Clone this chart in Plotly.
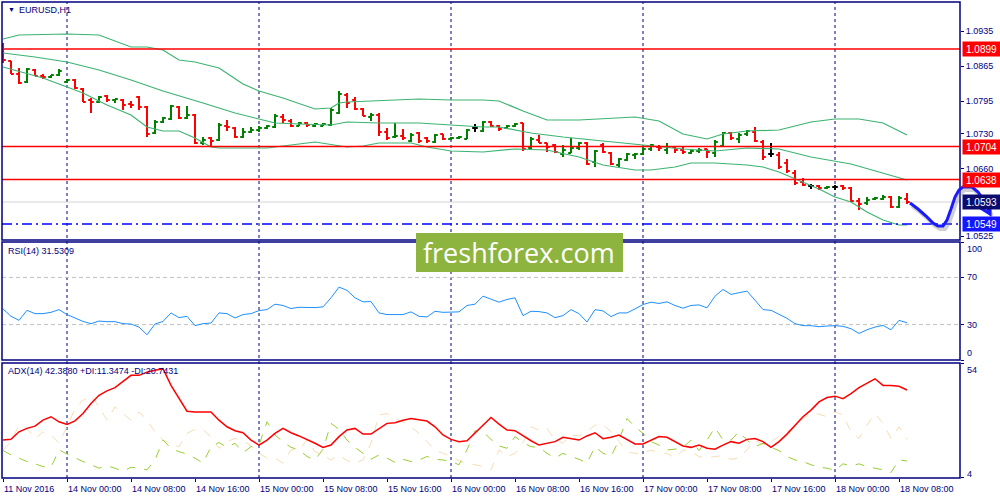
import plotly.graph_objects as go

# EURUSD H1 bars, 11 Nov 16:00 .. 18 Nov 09:00 (bar index 0..113)
opens = [1.0885,1.0875,1.0849,1.0833,1.0857,1.0845,1.0843,1.0847,1.0833,1.0837,
         1.0819,1.0797,1.0793,1.0805,1.0797,1.0797,1.0789,1.0803,1.0783,1.0731,
         1.0753,1.0759,1.0783,1.0761,1.0767,1.0711,1.0721,1.0717,1.0745,1.0741,
         1.0723,1.0733,1.0737,1.0741,1.0743,1.0763,1.0755,1.0745,1.0751,1.0745,
         1.0745,1.0747,1.0771,1.0807,1.0797,1.0779,1.0763,1.0767,1.0733,1.0723,
         1.0725,1.0715,1.0731,1.0721,1.0713,1.0729,1.0719,1.0721,1.0719,1.0741,
         1.0735,1.0753,1.0745,1.0741,1.0745,1.0751,1.0701,1.0717,1.0711,1.0707,
         1.0689,1.0691,1.0701,1.0711,1.0673,1.0707,1.0691,1.0667,1.0677,1.0687,
         1.0689,1.0699,1.0703,1.0697,1.0703,1.0697,1.0691,1.0695,1.0699,1.0691,
         1.0705,1.0731,1.0719,1.0729,1.0733,1.0713,1.0689,1.0687,1.0671,1.0651,
         1.0633,1.0625,1.0625,1.0621,1.0623,1.0625,1.0621,1.0595,1.0591,1.0599,
         1.0599,1.0603,1.0583,1.0599]
highs = [1.0911,1.0875,1.0861,1.0861,1.0859,1.0849,1.0847,1.0859,1.0839,1.0839,
         1.0821,1.0801,1.0805,1.0807,1.0799,1.0799,1.0795,1.0805,1.0785,1.0757,
         1.0763,1.0787,1.0785,1.0785,1.0769,1.0723,1.0723,1.0751,1.0757,1.0743,
         1.0741,1.0743,1.0745,1.0747,1.0769,1.0769,1.0759,1.0753,1.0753,1.0751,
         1.0751,1.0781,1.0815,1.0811,1.0803,1.0781,1.0771,1.0771,1.0741,1.0751,
         1.0739,1.0731,1.0733,1.0723,1.0729,1.0729,1.0723,1.0725,1.0739,1.0749,
         1.0755,1.0755,1.0747,1.0747,1.0751,1.0751,1.0723,1.0727,1.0711,1.0709,
         1.0707,1.0721,1.0713,1.0713,1.0697,1.0711,1.0693,1.0681,1.0691,1.0691,
         1.0703,1.0709,1.0707,1.0711,1.0703,1.0703,1.0697,1.0701,1.0699,1.0717,
         1.0733,1.0733,1.0731,1.0737,1.0743,1.0717,1.0711,1.0693,1.0679,1.0657,
         1.0641,1.0629,1.0627,1.0625,1.0627,1.0627,1.0623,1.0601,1.0603,1.0603,
         1.0607,1.0605,1.0605,1.0611]
lows = [1.0871,1.0849,1.0829,1.0831,1.0845,1.0839,1.0841,1.0845,1.0831,1.0819,
        1.0793,1.0771,1.0791,1.0793,1.0791,1.0777,1.0781,1.0777,1.0723,1.0729,
        1.0751,1.0757,1.0759,1.0759,1.0709,1.0707,1.0705,1.0715,1.0735,1.0721,
        1.0721,1.0731,1.0733,1.0739,1.0741,1.0751,1.0743,1.0745,1.0743,1.0743,
        1.0745,1.0745,1.0769,1.0781,1.0777,1.0765,1.0755,1.0725,1.0717,1.0721,
        1.0717,1.0713,1.0711,1.0711,1.0711,1.0717,1.0717,1.0719,1.0719,1.0733,
        1.0733,1.0743,1.0735,1.0739,1.0743,1.0695,1.0699,1.0711,1.0693,1.0691,
        1.0683,1.0691,1.0697,1.0667,1.0663,1.0691,1.0667,1.0663,1.0675,1.0679,
        1.0687,1.0695,1.0695,1.0689,1.0691,1.0689,1.0689,1.0691,1.0681,1.0683,
        1.0703,1.0717,1.0711,1.0725,1.0713,1.0677,1.0683,1.0659,1.0651,1.0627,
        1.0625,1.0619,1.0617,1.0619,1.0617,1.0617,1.0593,1.0577,1.0587,1.0597,
        1.0597,1.0581,1.0581,1.0589]
closes = [1.0877,1.0849,1.0831,1.0859,1.0845,1.0843,1.0847,1.0855,1.0837,1.0821,
          1.0793,1.0793,1.0803,1.0797,1.0799,1.0787,1.0787,1.0783,1.0729,1.0753,
          1.0761,1.0785,1.0761,1.0767,1.0711,1.0717,1.0715,1.0747,1.0743,1.0723,
          1.0733,1.0737,1.0741,1.0745,1.0765,1.0757,1.0745,1.0751,1.0747,1.0749,
          1.0749,1.0777,1.0809,1.0791,1.0779,1.0765,1.0767,1.0733,1.0721,1.0725,
          1.0721,1.0727,1.0715,1.0715,1.0727,1.0719,1.0721,1.0723,1.0737,1.0741,
          1.0753,1.0745,1.0739,1.0745,1.0749,1.0699,1.0719,1.0711,1.0703,1.0693,
          1.0697,1.0701,1.0711,1.0669,1.0695,1.0693,1.0669,1.0679,1.0689,1.0689,
          1.0699,1.0707,1.0701,1.0703,1.0697,1.0693,1.0695,1.0697,1.0693,1.0713,
          1.0731,1.0721,1.0727,1.0735,1.0715,1.0683,1.0689,1.0663,1.0655,1.0631,
          1.0627,1.0625,1.0621,1.0623,1.0623,1.0621,1.0595,1.0589,1.0597,1.0601,
          1.0603,1.0583,1.0601,1.0593]

# Bollinger bands, read at bar indices
upper_x = [0,2,8,12,16,18,20,22,24,27,30,32,35,39,41,42,43,47,52,56,60,62,65,68,72,79,82,85,88,90,93,97,101,104,107,110,113]
upper = [1.0919,1.0927,1.0929,1.0927,1.0903,1.0903,1.0897,1.0877,1.0873,1.0861,1.0829,1.0815,1.0801,1.0779,1.0781,1.0791,
         1.0793,1.0795,1.0799,1.0797,1.0797,1.0795,1.0775,1.0757,1.0757,1.0763,1.0755,1.0729,1.0719,1.0729,1.0735,1.0737,
         1.0753,1.0759,1.0759,1.0751,1.0727]
mid_x = [0,4,8,12,16,20,25,29,32,34,37,41,43,47,52,56,60,62,66,70,76,80,85,89,93,97,101,106,110,113]
mid = [1.0891,1.0883,1.0873,1.0857,1.0837,1.0815,1.0791,1.0771,1.0759,1.0751,1.0749,1.0747,1.0753,1.0751,1.0751,1.0747,
       1.0743,1.0743,1.0731,1.0723,1.0713,1.0707,1.0699,1.0695,1.0701,1.0699,1.0683,1.0669,1.0651,1.0637]
low_x = [0,5,10,13,16,18,20,22,24,26,27,33,35,39,43,45,47,51,53,56,60,64,68,72,75,79,81,84,86,89,93,95,97,100,102,104,106,108,110,112,113]
low = [1.0863,1.0841,1.0811,1.0787,1.0767,1.0743,1.0735,1.0735,1.0721,1.0703,1.0701,1.0701,1.0705,1.0713,1.0703,1.0705,
       1.0711,1.0711,1.0703,1.0695,1.0693,1.0699,1.0697,1.0683,1.0667,1.0657,1.0657,1.0663,1.0671,1.0671,1.0667,1.0663,
       1.0653,1.0633,1.0619,1.0603,1.0593,1.0573,1.0557,1.0547,1.0547]

rsi = [43.3,37.0,33.6,42.1,39.3,39.3,40.4,42.7,38.5,35.6,
       32.7,30.8,33.0,32.5,32.5,30.8,30.5,27.9,21.4,30.5,
       32.7,39.9,35.9,37.0,29.1,30.8,31.3,39.9,39.3,35.6,
       38.5,39.3,41.9,42.7,47.3,46.2,43.6,44.7,44.4,44.4,
       45.0,52.7,61.8,59.0,52.7,49.3,49.5,39.9,38.5,38.8,
       38.5,40.8,37.0,36.5,41.3,40.4,40.8,40.8,46.2,47.3,
       54.1,51.3,49.0,51.3,52.7,37.6,41.3,41.0,39.9,35.9,
       37.6,42.7,39.3,32.2,42.7,41.6,36.8,39.9,39.9,43.3,
       47.0,49.0,47.9,49.3,46.2,43.9,46.2,46.7,44.2,54.1,
       59.8,55.6,57.0,58.4,50.7,42.7,42.1,38.5,35.3,30.8,
       29.1,29.1,28.2,28.8,29.1,28.5,26.5,22.5,25.6,27.9,
       29.3,25.6,33.6,31.53]

adx = [20.5,20.8,24.1,25.6,26.6,29.2,30.7,28.5,27.3,28.9,
       32.1,36.5,40.1,42.0,43.4,45.9,48.8,48.8,50.2,51.0,
       51.7,44.4,38.6,33.1,32.8,32.8,32.8,29.2,26.3,24.6,
       23.7,20.5,18.3,20.5,23.4,25.6,23.7,22.3,20.8,19.1,
       17.3,18.3,22.0,24.9,25.6,23.1,23.1,25.6,27.8,28.1,
       29.2,29.9,29.2,28.8,26.3,22.7,20.8,19.8,20.2,23.7,
       27.0,30.4,27.5,24.9,24.6,22.3,20.2,18.3,19.1,19.8,
       21.7,21.1,20.5,22.3,23.7,21.1,21.7,22.7,20.8,18.8,
       18.8,20.5,22.0,21.7,19.8,17.9,17.3,18.3,16.9,16.5,
       18.3,19.8,19.1,20.8,21.2,19.8,17.3,19.8,23.1,27.0,
       30.7,33.6,37.2,39.1,39.7,38.6,40.8,43.4,45.4,47.3,
       44.4,44.4,44.0,42.39]
plus_di = [15.9,14.0,12.6,11.1,10.1,8.9,8.6,16.2,14.4,12.6,
           11.1,9.7,8.2,9.2,8.2,6.8,8.6,8.2,7.5,11.8,
           20.5,16.9,15.4,14.4,12.6,10.4,17.6,19.4,17.3,19.1,
           15.0,17.6,18.3,28.5,22.7,19.8,17.3,16.2,13.3,11.8,
           16.5,27.8,25.2,20.5,17.3,14.7,12.1,14.0,12.6,10.7,
           12.1,11.1,11.8,13.3,12.1,11.8,11.1,9.7,16.2,24.6,
           24.1,20.8,17.9,16.9,22.0,19.4,17.6,17.3,14.7,12.6,
           14.7,13.3,12.1,10.4,17.6,14.7,13.3,20.5,29.9,26.3,
           23.4,19.8,18.3,16.2,16.5,17.3,20.5,15.9,20.5,26.0,
           20.5,20.5,24.1,20.5,17.6,19.1,17.3,15.9,13.3,11.8,
           11.1,9.7,8.6,8.2,7.2,10.1,9.2,10.1,8.9,8.2,
           7.5,6.3,11.8,11.35]
minus_di = [16.2,19.8,27.0,25.6,21.2,24.1,22.7,19.1,26.3,34.3,
            37.9,40.1,35.0,29.2,35.0,32.1,29.2,32.8,29.2,24.1,
            20.5,19.1,17.6,23.4,25.2,24.9,22.0,16.9,19.8,21.2,
            20.2,17.9,14.7,12.6,12.6,10.4,16.2,16.2,20.5,15.4,
            14.0,11.8,14.0,11.5,10.4,11.8,19.1,31.4,32.1,29.9,
            28.5,26.3,23.4,19.8,16.2,14.7,13.3,11.5,10.4,9.7,
            8.9,7.5,16.2,13.3,14.7,19.4,26.3,24.9,25.6,20.5,
            19.1,22.7,22.3,24.1,27.0,27.3,24.1,19.8,15.4,14.7,
            14.7,16.2,14.7,14.7,12.6,16.2,15.4,13.3,12.6,13.3,
            13.6,12.1,12.6,16.2,20.5,18.3,19.8,22.0,24.1,26.3,
            29.9,32.1,31.8,30.7,32.8,31.4,24.1,21.2,27.0,32.1,
            27.8,21.2,26.3,20.74]

price_ticks = [1.0935, 1.0865, 1.0795, 1.0730, 1.0660, 1.0525]
red_levels = [1.0899, 1.0704, 1.0638]
bid = 1.0593
support = 1.0549

day_starts = [8, 32, 56, 80, 104]
label_idx = [0, 8, 16, 24, 32, 40, 48, 56, 64, 72, 80, 88, 96, 104, 112]
label_txt = ["11 Nov 2016", "14 Nov 00:00", "14 Nov 08:00", "14 Nov 16:00", "15 Nov 00:00",
             "15 Nov 08:00", "15 Nov 16:00", "16 Nov 00:00", "16 Nov 08:00", "16 Nov 16:00",
             "17 Nov 00:00", "17 Nov 08:00", "17 Nov 16:00", "18 Nov 00:00", "18 Nov 08:00"]

NAVY = "#000080"
FONT = "Liberation Sans"
FS = 9
idx = list(range(len(closes)))

# split doji bars (drawn black in MT4)
doji = [i for i in idx if opens[i] == closes[i]]
norm = [i for i in idx if opens[i] != closes[i]]

fig = go.Figure()

fig.add_trace(go.Ohlc(x=norm, open=[opens[i] for i in norm], high=[highs[i] for i in norm],
                      low=[lows[i] for i in norm], close=[closes[i] for i in norm],
                      increasing=dict(line=dict(color="#008000", width=2)),
                      decreasing=dict(line=dict(color="#ff0000", width=2)),
                      tickwidth=0.35, xaxis="x", yaxis="y", showlegend=False))
fig.add_trace(go.Ohlc(x=doji, open=[opens[i] for i in doji], high=[highs[i] for i in doji],
                      low=[lows[i] for i in doji], close=[closes[i] for i in doji],
                      increasing=dict(line=dict(color="#000000", width=2)),
                      decreasing=dict(line=dict(color="#000000", width=2)),
                      tickwidth=0.35, xaxis="x", yaxis="y", showlegend=False))

for bx, by in [(upper_x, upper), (mid_x, mid), (low_x, low)]:
    fig.add_trace(go.Scatter(x=bx, y=by, mode="lines", line=dict(color="#3cb371", width=1.2),
                             xaxis="x", yaxis="y", showlegend=False, hoverinfo="skip"))

fig.add_trace(go.Scatter(x=idx, y=rsi, mode="lines", line=dict(color="#1e90ff", width=1),
                         xaxis="x", yaxis="y2", showlegend=False))

fig.add_trace(go.Scatter(x=idx, y=minus_di, mode="lines", line=dict(color="#f5deb3", width=1, dash="dash"),
                         xaxis="x", yaxis="y3", showlegend=False))
fig.add_trace(go.Scatter(x=idx, y=plus_di, mode="lines", line=dict(color="#9acd32", width=1, dash="dash"),
                         xaxis="x", yaxis="y3", showlegend=False))
fig.add_trace(go.Scatter(x=idx, y=adx, mode="lines", line=dict(color="#ff0000", width=1.5),
                         xaxis="x", yaxis="y3", showlegend=False))

shapes = []
X0, X1 = 0.002, 0.96
panels = [(0.52, 0.996), (0.28, 0.516), (0.044, 0.274)]

for d in day_starts:
    shapes.append(dict(type="line", xref="x", yref="paper", x0=d, x1=d, y0=0.044, y1=0.996,
                       line=dict(color=NAVY, width=1, dash="3px,3px"), layer="below"))

shapes.append(dict(type="line", xref="paper", yref="y", x0=X0, x1=X1, y0=bid, y1=bid,
                   line=dict(color="#d3d3d3", width=1), layer="below"))
for lv in red_levels:
    shapes.append(dict(type="line", xref="paper", yref="y", x0=X0, x1=X1, y0=lv, y1=lv,
                       line=dict(color="#ff0000", width=1.5)))
shapes.append(dict(type="line", xref="paper", yref="y", x0=X0, x1=X1, y0=support, y1=support,
                   line=dict(color="#0000ff", width=1.5, dash="10px,4px,2px,4px")))

for lv in [70, 30]:
    shapes.append(dict(type="line", xref="paper", yref="y2", x0=X0, x1=X1, y0=lv, y1=lv,
                       line=dict(color="#c0c0c0", width=1, dash="4px,3px"), layer="below"))

for y0, y1 in panels:
    shapes.append(dict(type="rect", xref="paper", yref="paper", x0=X0, x1=X1, y0=y0, y1=y1,
                       line=dict(color=NAVY, width=1.5)))


# hand-drawn forecast sketch (pixel positions on the 1000x500 picture)
def pth(pts):
    return "M " + " L ".join("%.4f,%.4f" % (x / 1000, 1 - y / 500) for x, y in pts)


sketch = [(910, 203), (918, 209), (926, 216), (933, 223), (938, 226), (943, 226), (947, 220),
          (951, 209), (955, 197), (959, 190), (963, 187), (972, 187), (978, 192), (984, 201), (990, 213)]
head = [(979, 207), (990, 214), (990, 200)]
shapes.append(dict(type="path", xref="paper", yref="paper", path=pth([(x + 2, y + 3) for x, y in sketch]),
                   line=dict(color="rgba(120,120,120,0.35)", width=4)))
shapes.append(dict(type="path", xref="paper", yref="paper", path=pth(sketch),
                   line=dict(color="#1a1aff", width=3)))
shapes.append(dict(type="path", xref="paper", yref="paper", path=pth(head),
                   line=dict(color="#1a1aff", width=3)))

# logo box
shapes.append(dict(type="rect", xref="paper", yref="paper", x0=0.416, x1=0.623, y0=0.456, y1=0.534,
                   fillcolor="#8db43e", line=dict(width=0)))

ann = []
ann.append(dict(xref="paper", yref="paper", x=0.006, y=0.981, text="▼", showarrow=False,
                xanchor="left", yanchor="middle", font=dict(family=FONT, size=7, color=NAVY)))
ann.append(dict(xref="paper", yref="paper", x=0.017, y=0.981, text="EURUSD,H1", showarrow=False,
                xanchor="left", yanchor="middle", font=dict(family=FONT, size=FS, color=NAVY)))
ann.append(dict(xref="paper", yref="paper", x=0.006, y=0.499, text="RSI(14) %.4f" % 31.5309, showarrow=False,
                xanchor="left", yanchor="middle", font=dict(family=FONT, size=FS, color=NAVY)))
ann.append(dict(xref="paper", yref="paper", x=0.006, y=0.258,
                text="ADX(14) 42.3880 +DI:11.3474 -DI:20.7431", showarrow=False,
                xanchor="left", yanchor="middle", font=dict(family=FONT, size=FS, color=NAVY)))
ann.append(dict(xref="paper", yref="paper", x=0.519, y=0.495, text="freshforex.com", showarrow=False,
                font=dict(family="Open Sans", size=27, color="white")))

for lv, col in [(red_levels[0], "#ff0000"), (red_levels[1], "#ff0000"), (red_levels[2], "#ff0000"),
                (bid, "#0c0c6e"), (support, "#1515ff")]:
    ann.append(dict(xref="paper", yref="y", x=0.962, y=lv, text="%.4f" % lv, showarrow=False,
                    xanchor="left", yanchor="middle", bgcolor=col, width=34, height=11, borderpad=1.5,
                    font=dict(family=FONT, size=FS + 1, color="white")))

for v, anc in [(100, "top"), (70, "middle"), (30, "middle"), (0, "bottom")]:
    ann.append(dict(xref="paper", yref="y2", x=0.965, y=v, text=str(v), showarrow=False,
                    xanchor="left", yanchor=anc, font=dict(family=FONT, size=FS, color=NAVY)))
for v, anc, ys in [(54, "top", 0), (4, "bottom", -3)]:
    ann.append(dict(xref="paper", yref="y3", x=0.965, y=v, text=str(v), showarrow=False, yshift=ys,
                    xanchor="left", yanchor=anc, font=dict(family=FONT, size=FS, color=NAVY)))

for i, t in zip(label_idx, label_txt):
    ann.append(dict(xref="x", yref="paper", x=i, y=0.022, text=t, showarrow=False,
                    xanchor="left", yanchor="middle", xshift=-1, font=dict(family=FONT, size=FS, color=NAVY)))

yax = dict(side="right", anchor="x", showgrid=False, zeroline=False, showline=False,
           ticks="outside", ticklen=3, tickcolor=NAVY, tickfont=dict(family=FONT, size=FS, color=NAVY))

fig.update_layout(
    width=1000, height=500, margin=dict(l=0, r=0, t=0, b=0),
    paper_bgcolor="white", plot_bgcolor="white", showlegend=False,
    xaxis=dict(domain=[X0, X1], range=[-0.125, 119.625], anchor="y3", showgrid=False, zeroline=False,
               showline=False, ticks="outside", ticklen=3, tickcolor=NAVY, tickvals=label_idx,
               showticklabels=False, rangeslider=dict(visible=False)),
    yaxis=dict(yax, domain=list(panels[0]), range=[1.0517, 1.0993], tickvals=price_ticks,
               ticktext=["%.4f" % v for v in price_ticks]),
    yaxis2=dict(yax, domain=list(panels[1]), range=[0, 100], tickvals=[100, 70, 30, 0], showticklabels=False),
    yaxis3=dict(yax, domain=list(panels[2]), range=[3.9, 54.2], tickvals=[54, 4], showticklabels=False),
    shapes=shapes, annotations=ann,
)

fig.write_html("out.html", config={"displayModeBar": False},
               post_script="document.body.style.margin='0';")
